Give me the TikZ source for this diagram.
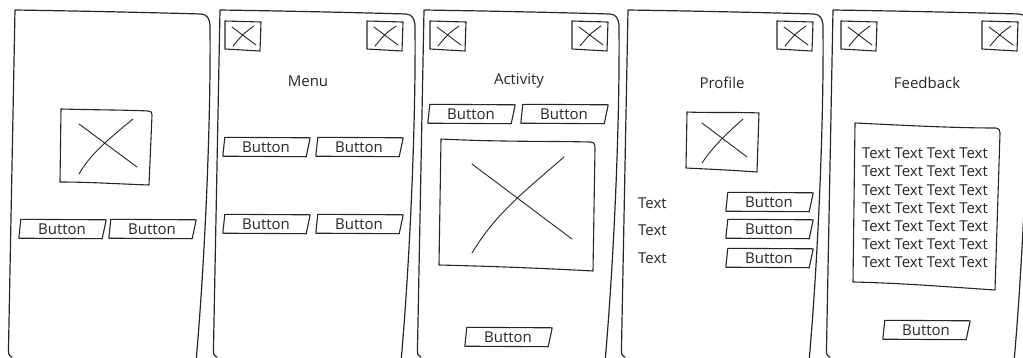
\documentclass[tikz,border=0pt]{standalone}
\usepackage{fontspec}
\setmainfont{Open Sans}
\tikzset{
  sk/.style={line width=1.1pt, draw=black!85, line cap=round, line join=round},
  skt/.style={line width=0.9pt, draw=black!85, line cap=round},
  lbl/.style={font=\fontsize{15}{17}\selectfont, text=black!85, inner sep=0pt},
  btn/.style={lbl, minimum width=84pt, minimum height=19pt},
}
\newcommand\skicon[2]{%
  \draw[sk] (#1,#2) -- ({#1+36},{#2+1}) -- ({#1+35},{#2+30}) -- (#1,{#2+28}) -- cycle;
  \draw[skt] ({#1+7},{#2+6}) -- ({#1+31},{#2+24});
  \draw[skt] ({#1+29},{#2+5}) .. controls ({#1+18},{#2+13}) .. ({#1+8},{#2+25});}
\newcommand\skbutton[3]{%
  \node[btn] (#1) at (#2,#3) {Button};
  \draw[sk] ([xshift=1pt]#1.north west) -- ([xshift=2pt,yshift=-0.5pt]#1.north east)
    -- ([xshift=-2pt]#1.south east) -- ([xshift=-1pt,yshift=0.5pt]#1.south west) -- cycle;}
\newcommand\skframe[1]{%
  \draw[sk, line width=1.2pt, xshift=#1pt] (12,357) .. controls (8.5,355) .. (8.5,348) -- (15,10)
    .. controls (80,11) and (150,12.5) .. (201,14)
    .. controls (207,14.5) and (209.5,18) .. (210,26)
    .. controls (211,120) and (205,260) .. (196,362);}
\begin{document}
\begin{tikzpicture}[x=1pt,y=-1pt]
\useasboundingbox (0,0) rectangle (1023,357);
% frames
\skframe{0}
\skframe{205}
\skframe{409}
\skframe{613}
\skframe{818}
% panel 1
\draw[sk] (61,109) .. controls (100,110) and (130,110) .. (148,111) .. controls (151,111) and (152,112) .. (152,115) -- (149,185) .. controls (120,184) and (90,182) .. (60,182) -- cycle;
\draw[skt] (79,124) -- (137,167);
\draw[skt] (133,119) .. controls (105,142) and (90,155) .. (79,174);
\skbutton{p1b1}{62}{229}
\skbutton{p1b2}{152}{229}
% panel 2
\skicon{225}{21}
\skicon{367}{21}
\node[lbl] (menu) at (308,81) {Menu};
\skbutton{p2b1}{266}{147}
\skbutton{p2b2}{359}{147}
\skbutton{p2b3}{266}{224}
\skbutton{p2b4}{359}{224}
% panel 3
\skicon{430}{21}
\skicon{572}{21}
\node[lbl] (activity) at (519,81) {Activity};
\skbutton{p3b1}{471}{114}
\skbutton{p3b2}{564}{114}
\draw[sk] (441,139) .. controls (500,142) and (550,141) .. (590,142) .. controls (594,142) and (595,144) .. (595,148) -- (593,271) .. controls (540,268) and (480,266) .. (439,265) -- cycle;
\draw[skt] (472,164) -- (572,239);
\draw[skt] (564,157) .. controls (520,195) and (495,215) .. (472,253);
\skbutton{p3b3}{508}{337}
% panel 4
\skicon{777}{21}
\node[lbl] (profile) at (722,83) {Profile};
\draw[sk] (687,112) .. controls (710,113) and (740,112) .. (759,113) -- (757,172) .. controls (730,170) and (705,169) .. (686,168) -- cycle;
\draw[skt] (702,123) -- (747,157);
\draw[skt] (743,119) .. controls (725,135) and (712,148) .. (702,163);
\node[lbl, anchor=west] (t1) at (638,203) {Text};
\node[lbl, anchor=west] (t2) at (638,230) {Text};
\node[lbl, anchor=west] (t3) at (638,258) {Text};
\skbutton{p4b1}{769}{202}
\skbutton{p4b2}{769}{229}
\skbutton{p4b3}{769}{258}
% panel 5
\skicon{841}{21}
\skicon{982}{21}
\node[lbl] (feedback) at (927,83) {Feedback};
\draw[sk] (855,123) .. controls (900,125) and (950,128) .. (996,128) .. controls (999,128) and (1000,130) .. (1000,133) -- (995,290) .. controls (950,287) and (900,283) .. (853,282) -- cycle;
\node[lbl, align=center, font=\fontsize{15}{18.2}\selectfont] (fbtext) at (925,208)
  {Text Text Text Text\\Text Text Text Text\\Text Text Text Text\\Text Text Text Text\\Text Text Text Text\\Text Text Text Text\\Text Text Text Text};
\skbutton{p5b1}{926}{330}
\end{tikzpicture}
\end{document}
